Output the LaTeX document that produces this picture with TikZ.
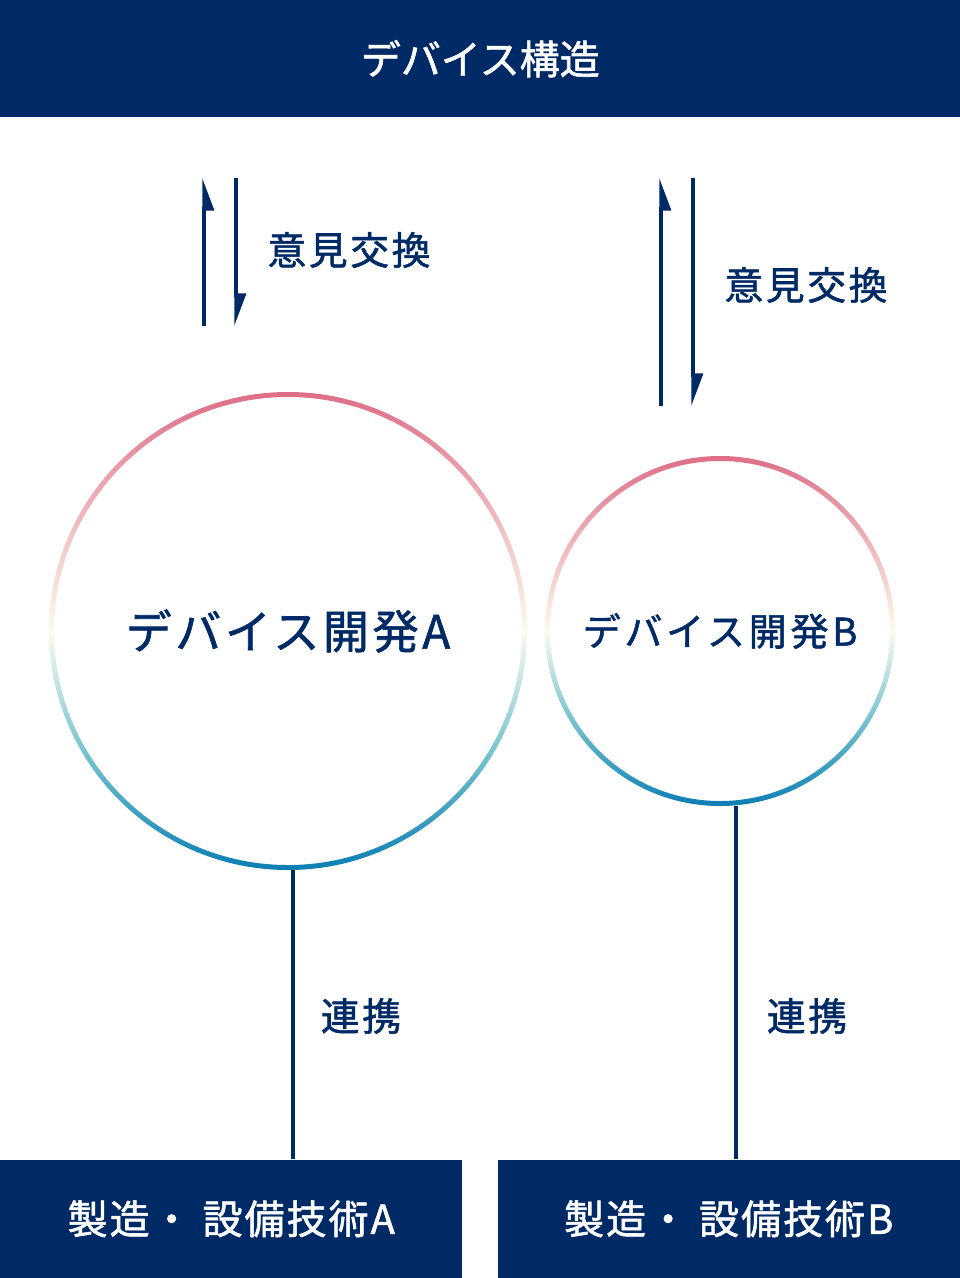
\documentclass[tikz,border=0pt]{standalone}
\usepackage{fontspec}
\setmainfont{Noto Sans CJK JP}[FakeBold=1.4]
\usetikzlibrary{arrows.meta}
\definecolor{navy}{RGB}{0,42,102}
\definecolor{ringtop}{RGB}{221,110,134}
\definecolor{ringup}{RGB}{238,182,188}
\definecolor{ringmid}{RGB}{252,251,238}
\definecolor{ringlow}{RGB}{120,196,208}
\definecolor{ringbot}{RGB}{12,126,180}
\pgfdeclareverticalshading{ringgrad}{100bp}{color(0bp)=(ringbot); color(25bp)=(ringbot); color(37.5bp)=(ringlow); color(50bp)=(ringmid); color(62.5bp)=(ringup); color(75bp)=(ringtop); color(100bp)=(ringtop)}
\newcommand{\spaced}[1]{\addfontfeature{LetterSpace=#1}}
\begin{document}
\begin{tikzpicture}[
x=0.75pt, y=-0.75pt,
band/.style={rectangle, fill=navy, text=white, inner sep=0pt,
	minimum height=88.5pt, font=\fontsize{30}{36}\selectfont},
dev/.style={circle, inner sep=0pt, text=navy},
note/.style={text=navy, inner sep=0pt, font=\fontsize{29}{34}\selectfont\spaced{7}},
link/.style={draw=navy, line width=2.5pt},
upharp/.style={link, -{Triangle[harpoon, swap, length=21pt, width=15pt]}},
downharp/.style={link, -{Triangle[harpoon, length=21pt, width=15pt]}}
]
\useasboundingbox (0,0) rectangle (960,1278);

% header and the two bottom bands
\node[band, minimum width=720pt, minimum height=87.75pt, anchor=north west] (head) at (0,0) {デバイス構造};
\node[band, minimum width=346.5pt, anchor=south west, font=\fontsize{30}{36}\selectfont\spaced{5}] (mfgA) at (0,1278) {製造・ 設備技術A};
\node[band, minimum width=346.5pt, anchor=south east, font=\fontsize{30}{36}\selectfont\spaced{5}] (mfgB) at (960,1278) {製造・ 設備技術B};

% the two circles
\node[dev, minimum size=358.5pt, font=\fontsize{34.5}{40}\selectfont\spaced{8}] (devA) at (288,631) {デバイス開発A};
\node[dev, minimum size=262.5pt, font=\fontsize{28.5}{34}\selectfont\spaced{10}] (devB) at (720,631) {デバイス開発B};
\shade[shading=ringgrad, even odd rule] (devA.center) circle[radius=239] (devA.center) circle[radius=234];
\shade[shading=ringgrad, even odd rule] (devB.center) circle[radius=175] (devB.center) circle[radius=170];

% exchange arrows
\coordinate (upAfoot) at (204,326);
\coordinate (upAtip) at (204,178);
\coordinate (downAfoot) at (236,178);
\coordinate (downAtip) at (236,326);
\coordinate (upBfoot) at (661,406);
\coordinate (upBtip) at (661,178);
\coordinate (downBfoot) at (693,178);
\coordinate (downBtip) at (693,406);
\draw[upharp] (upAfoot) -- (upAtip);
\draw[downharp] (downAfoot) -- (downAtip);
\draw[upharp] (upBfoot) -- (upBtip);
\draw[downharp] (downBfoot) -- (downBtip);
\node[note] (talkA) at (349,250) {意見交換};
\node[note] (talkB) at (806,285) {意見交換};

% links down to the bands
\coordinate (tieA) at (293,1016);
\coordinate (tieB) at (736,1016);
\draw[link] (devA.south -| tieA) -- (mfgA.north -| tieA);
\draw[link] (devB.south -| tieB) -- (mfgB.north -| tieB);
\node[note] (tieAtext) at (361,1016) {連携};
\node[note] (tieBtext) at (807,1016) {連携};
\end{tikzpicture}
\end{document}
